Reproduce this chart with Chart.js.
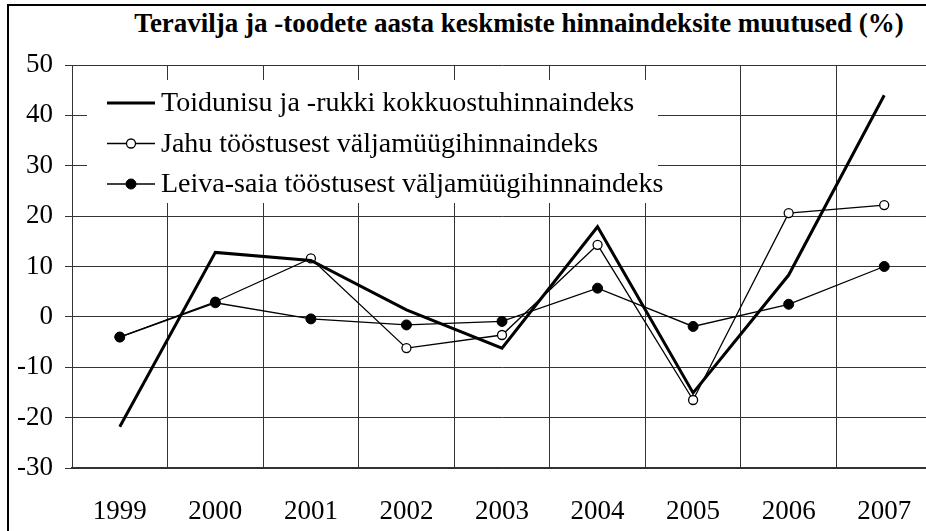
<!DOCTYPE html>
<html>
<head>
<meta charset="utf-8">
<script src="https://cdn.jsdelivr.net/npm/chart.js@4.4.0/dist/chart.umd.min.js"></script>
<style>
  html, body { margin: 0; padding: 0; background: #fff; overflow: hidden; width: 926px; height: 531px; }
  #frame { position: absolute; left: 7px; top: 4px; width: 1000px; height: 600px; border-left: 2px solid #000; border-top: 2px solid #000; }
  #title { position: absolute; left: 0; top: 8px; width: 1038px; text-align: center; font: bold 27px "Liberation Serif", serif; white-space: nowrap; color: #000; }
  #chart { position: absolute; left: 0; top: 0; }
</style>
</head>
<body>
<div id="frame"></div>
<div id="title">Teravilja ja -toodete aasta keskmiste hinnaindeksite muutused (%)</div>
<canvas id="chart" width="940" height="531"></canvas>
<script>
// andmed
const years = ['1999', '2000', '2001', '2002', '2003', '2004', '2005', '2006', '2007'];
const seriesNames = [
  'Toidunisu ja -rukki kokkuostuhinnaindeks',
  'Jahu tööstusest väljamüügihinnaindeks',
  'Leiva-saia tööstusest väljamüügihinnaindeks'
];
const toidunisu = [-21.8, 12.8, 11.2, 1.4, -6.2, 17.9, -15.1, 8.3, 44.0];
const jahu = [-4.0, 3.0, 11.6, -6.2, -3.6, 14.3, -16.5, 20.6, 22.2];
const leivaSaia = [-4.0, 2.8, -0.4, -1.6, -0.9, 5.7, -1.9, 2.5, 10.0];
const yMin = -30;
const yMax = 50;
const yStep = 10;

const serif = '"Liberation Serif", "Times New Roman", serif';

// legend inside the plot, on a white box
const boxLegend = {
  id: 'boxLegend',
  beforeDatasetsDraw(chart) {
    const ctx = chart.ctx;
    ctx.save();
    ctx.fillStyle = '#fff';
    ctx.fillRect(87, 80, 571, 123);
    chart.data.datasets.forEach((ds, i) => {
      const y = 103 + i * 40.5;
      ctx.strokeStyle = '#000';
      ctx.lineWidth = ds.borderWidth;
      ctx.beginPath();
      ctx.moveTo(107, y);
      ctx.lineTo(155, y);
      ctx.stroke();
      if (ds.pointRadius > 0) {
        ctx.beginPath();
        ctx.arc(131, y, ds.pointRadius, 0, Math.PI * 2);
        ctx.fillStyle = ds.pointBackgroundColor;
        ctx.fill();
        ctx.lineWidth = ds.pointBorderWidth;
        ctx.stroke();
      }
      ctx.fillStyle = '#000';
      ctx.font = '28px ' + serif;
      ctx.textBaseline = 'middle';
      ctx.fillText(ds.label, 161, y + 1);
    });
    ctx.restore();
  }
};

new Chart(document.getElementById('chart'), {
  type: 'line',
  data: {
    labels: years,
    datasets: [
      {
        label: seriesNames[0],
        data: toidunisu,
        order: 0,
        borderColor: '#000',
        borderWidth: 3,
        pointRadius: 0,
        tension: 0
      },
      {
        label: seriesNames[1],
        data: jahu,
        order: 2,
        borderColor: '#000',
        borderWidth: 1.3,
        pointRadius: 4.5,
        pointBackgroundColor: '#fff',
        pointBorderColor: '#000',
        pointBorderWidth: 1.3,
        tension: 0
      },
      {
        label: seriesNames[2],
        data: leivaSaia,
        order: 1,
        borderColor: '#000',
        borderWidth: 1.3,
        pointRadius: 5,
        pointBackgroundColor: '#000',
        pointBorderColor: '#000',
        pointBorderWidth: 1,
        tension: 0
      }
    ]
  },
  options: {
    responsive: false,
    animation: false,
    devicePixelRatio: 1,
    layout: { padding: { left: 0, top: 65, right: 8, bottom: 0 } },
    plugins: {
      legend: { display: false },
      title: { display: false },
      tooltip: { enabled: false }
    },
    scales: {
      x: {
        offset: true,
        grid: { offset: true, color: '#333', lineWidth: 1, drawTicks: false },
        border: { color: '#333', width: 1.5 },
        ticks: { color: '#000', font: { family: serif, size: 27 }, padding: 28, maxRotation: 0 },
        afterFit(scale) { scale.height = 63; }
      },
      y: {
        min: yMin,
        max: yMax,
        grid: { color: '#333', lineWidth: 1, tickLength: 7 },
        border: { color: '#333', width: 1 },
        ticks: { stepSize: yStep, color: '#000', font: { family: serif, size: 27 }, padding: 12 },
        afterFit(scale) { scale.width = 72; }
      }
    }
  },
  plugins: [boxLegend]
});
</script>
</body>
</html>
